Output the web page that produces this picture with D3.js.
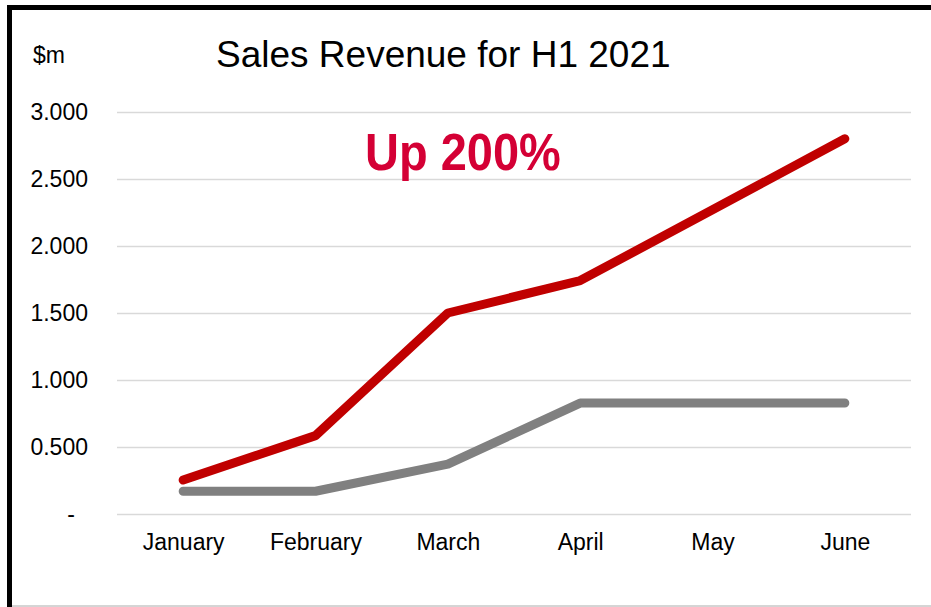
<!DOCTYPE html>
<html>
<head>
<meta charset="utf-8">
<script src="https://cdn.jsdelivr.net/npm/d3@7"></script>
<style>
    body { margin: 0; background: #fff; }
    svg { display: block; font-family: "Liberation Sans", Arial, sans-serif; }
</style>
</head>
<body>
<div id="chart"></div>
<script>

// chart data
const months = ["January", "February", "March", "April", "May", "June"];
const revenue = [0.253, 0.585, 1.50, 1.742, 2.27, 2.80];
const baseline = [0.170, 0.170, 0.372, 0.828, 0.828, 0.828];
const yTicks = [0, 0.5, 1, 1.5, 2, 2.5, 3];

const width = 931, height = 607;
const plotLeft = 117, plotRight = 911, plotTop = 112, plotBottom = 514;

let svg = d3.select("#chart").append("svg")
            .attr("width", width)
            .attr("height", height);

svg.append("rect")
   .attr("width", width)
   .attr("height", height)
   .attr("fill", "white");

// frame: thick black left/top, thin grey at the bottom
svg.append("path")
   .attr("d", "M9.5," + height + " V7.5 H" + (width + 5))
   .attr("fill", "none")
   .attr("stroke", "black")
   .attr("stroke-width", 5);
svg.append("line")
   .attr("x1", 12).attr("x2", width)
   .attr("y1", 606).attr("y2", 606)
   .attr("stroke", "#aaaaaa")
   .attr("stroke-width", 1);

let x = d3.scalePoint()
          .domain(months)
          .range([plotLeft, plotRight])
          .padding(0.5);

let y = d3.scaleLinear()
          .domain([0, 3])
          .range([plotBottom, plotTop]);

// gridlines
let grid = svg.append("g")
              .attr("transform", "translate(" + plotLeft + ",0)")
              .call(d3.axisLeft(y).tickValues(yTicks).tickSize(-(plotRight - plotLeft)).tickFormat(""));
grid.select(".domain").remove();
grid.selectAll("line")
    .attr("stroke", "#d9d9d9")
    .attr("stroke-width", 1.5);

// y labels
let yAxis = svg.append("g")
               .attr("transform", "translate(" + plotLeft + ",0)")
               .call(d3.axisLeft(y).tickValues(yTicks).tickSize(0).tickPadding(29)
                       .tickFormat(d => d === 0 ? "-" : d3.format(".3f")(d)));
yAxis.select(".domain").remove();
yAxis.selectAll("text")
     .attr("dy", "0.34em")
     .attr("font-size", 23)
     .attr("font-family", "Liberation Sans, Arial, sans-serif")
     .attr("fill", "black");
yAxis.selectAll("text")
     .filter(d => d === 0)
     .attr("x", -42);

// x labels
let xAxis = svg.append("g")
               .attr("transform", "translate(0," + plotBottom + ")")
               .call(d3.axisBottom(x).tickSize(0));
xAxis.select(".domain").remove();
xAxis.selectAll("text")
     .attr("y", 36)
     .attr("dy", null)
     .attr("font-size", 23)
     .attr("font-family", "Liberation Sans, Arial, sans-serif")
     .attr("fill", "black");

// series lines
let line = d3.line()
             .x((d, i) => x(months[i]))
             .y(d => y(d));

svg.append("path")
   .datum(baseline)
   .attr("d", line)
   .attr("fill", "none")
   .attr("stroke", "#808080")
   .attr("stroke-width", 9)
   .attr("stroke-linecap", "round")
   .attr("stroke-linejoin", "round");

svg.append("path")
   .datum(revenue)
   .attr("d", line)
   .attr("fill", "none")
   .attr("stroke", "#c00000")
   .attr("stroke-width", 9)
   .attr("stroke-linecap", "round")
   .attr("stroke-linejoin", "round");

// texts
svg.append("text")
   .attr("x", 33).attr("y", 63)
   .attr("font-size", 23)
   .text("$m");

svg.append("text")
   .attr("x", 216).attr("y", 67)
   .attr("font-size", 37)
   .text("Sales Revenue for H1 2021");

svg.append("text")
   .attr("transform", "translate(365,170) scale(1,1.12)")
   .attr("font-size", 47)
   .attr("font-weight", "bold")
   .attr("fill", "#d40035")
   .text("Up 200%");

</script>
</body>
</html>
